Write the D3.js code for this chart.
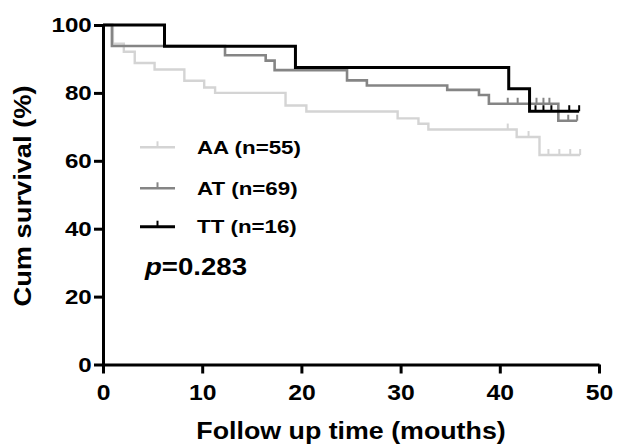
<!DOCTYPE html>
<html>
<head>
<meta charset="utf-8">
<script src="https://cdn.jsdelivr.net/npm/d3@7"></script>
<style>
  body { margin: 0; background: #fff; }
  svg text { font-family: "Liberation Sans", Arial, sans-serif; font-weight: bold; fill: #000; }
</style>
</head>
<body>
<svg id="chart" width="624" height="445"></svg>
<script>
'use strict';

// Kaplan-Meier steps: [time, survival %]
var groups = ['AA (n=55)', 'AT (n=69)', 'TT (n=16)'];
var aaSteps = [[0, 100], [1.0, 94.5], [2.1, 92.1], [3.2, 88.8], [5.2, 86.9], [8.2, 83.6], [10.2, 81.6], [11.3, 80.0],
  [18.4, 76.3], [20.5, 74.5], [29.7, 72.5], [31.8, 70.9], [32.8, 69.2], [41.7, 67.0], [44.0, 61.7]];
var aaCensor = [40.8, 42.9, 44.9, 46.0, 47.1, 48.1];
var atSteps = [[0, 100], [0.9, 93.8], [12.3, 91.1], [16.4, 89.5], [17.3, 86.7], [24.6, 83.7], [26.6, 82.2],
  [34.7, 80.9], [37.9, 79.4], [38.9, 76.8], [45.9, 71.8]];
var atCensor = [40.8, 41.8, 43.7, 44.4, 45.0, 46.9, 47.8];
var ttSteps = [[0, 100], [6.2, 93.75], [19.4, 87.5], [40.9, 81.25], [43.0, 74.6]];
var ttCensor = [43.6, 44.4, 45.2, 47.0, 48.0];
var colors = ['#d4d4d4', '#858585', '#000000'];
var widths = [2.4, 2.6, 3];
var xTicks = [0, 10, 20, 30, 40, 50];
var yTicks = [0, 20, 40, 60, 80, 100];

var series = [
  {name: groups[0], steps: aaSteps, censor: aaCensor, color: colors[0], w: widths[0]},
  {name: groups[1], steps: atSteps, censor: atCensor, color: colors[1], w: widths[1]},
  {name: groups[2], steps: ttSteps, censor: ttCensor, color: colors[2], w: widths[2]}
];

var svg = d3.select('#chart');
var x = d3.scaleLinear().domain([0, 50]).range([103, 599]);
var y = d3.scaleLinear().domain([0, 100]).range([364.5, 25]);

// value of a step curve at time t
function survAt(steps, t) {
  var v = steps[0][1];
  steps.forEach(function(s) { if (s[0] <= t) { v = s[1]; } });
  return v;
}

var line = d3.line()
  .x(function(d) { return x(d[0]); })
  .y(function(d) { return y(d[1]); })
  .curve(d3.curveStepAfter);

series.forEach(function(s) {
  var end = d3.max(s.censor);
  var pts = s.steps.concat([[end, s.steps[s.steps.length - 1][1]]]);
  svg.append('path')
    .datum(pts)
    .attr('d', line)
    .attr('fill', 'none')
    .attr('stroke', s.color)
    .attr('stroke-width', s.w);

  // censor marks
  svg.selectAll(null)
    .data(s.censor)
    .enter().append('line')
    .attr('x1', function(d) { return x(d); })
    .attr('x2', function(d) { return x(d); })
    .attr('y1', function(d) { return y(survAt(s.steps, d)); })
    .attr('y2', function(d) { return y(survAt(s.steps, d)) - 6; })
    .attr('stroke', s.color)
    .attr('stroke-width', 2);
});

// axes
var xAxis = svg.append('g')
  .attr('transform', 'translate(0,364.5)')
  .call(d3.axisBottom(x).tickValues(xTicks).tickSize(9).tickSizeOuter(0));
xAxis.selectAll('text')
  .attr('y', 20.5)
  .style('font-size', '21.5px')
  .attr('transform', 'scale(1.15,1)');

var yAxis = svg.append('g')
  .attr('transform', 'translate(103,0)')
  .call(d3.axisLeft(y).tickValues(yTicks).tickSize(9).tickSizeOuter(0));
yAxis.selectAll('text')
  .attr('x', -9.8)
  .style('font-size', '21px')
  .attr('transform', 'scale(1.15,1)');

svg.selectAll('.domain').attr('stroke', '#000').attr('stroke-width', 3);
svg.selectAll('.tick line').attr('stroke', '#000').attr('stroke-width', 3);

// axis titles
svg.append('text')
  .attr('transform', 'translate(351,438.5) scale(1.15,1)')
  .attr('text-anchor', 'middle')
  .style('font-size', '23.3px')
  .text('Follow up time (mouths)');

svg.append('text')
  .attr('transform', 'translate(31,196) rotate(-90) scale(1.16,1)')
  .attr('text-anchor', 'middle')
  .style('font-size', '23.5px')
  .text('Cum survival (%)');

// legend
var legendY = [147.3, 188.3, 226.7];
series.forEach(function(s, i) {
  var g = svg.append('g').attr('transform', 'translate(140,' + legendY[i] + ')');
  g.append('line').attr('x1', 0).attr('x2', 35).attr('y1', 0).attr('y2', 0)
    .attr('stroke', s.color).attr('stroke-width', s.w);
  g.append('line').attr('x1', 17.5).attr('x2', 17.5).attr('y1', 0).attr('y2', -6)
    .attr('stroke', s.color).attr('stroke-width', 2);
  g.append('text')
    .attr('transform', 'translate(57,6.7) scale(1.2,1)')
    .style('font-size', '18.6px')
    .text(s.name);
});

var pText = svg.append('text')
  .attr('transform', 'translate(145,275) scale(1.2,1)')
  .style('font-size', '23px');
pText.append('tspan').style('font-style', 'italic').text('p');
pText.append('tspan').text('=0.283');
</script>
</body>
</html>
